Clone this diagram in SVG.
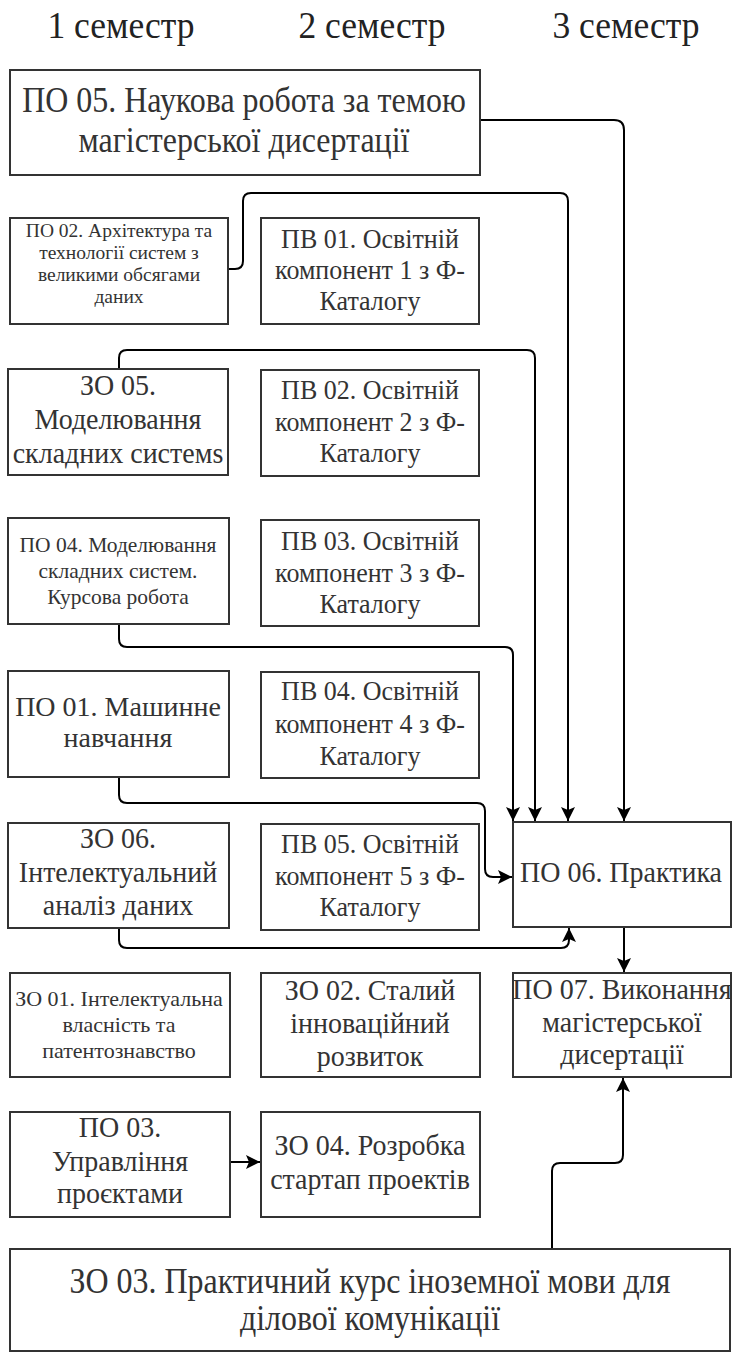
<svg xmlns="http://www.w3.org/2000/svg" width="732" height="1352" viewBox="0 0 732 1352" font-family="'Liberation Serif', 'Times New Roman', serif">
<defs>
<style>
.box{fill:#fff;stroke:#333;stroke-width:2}
text{font-family:'Liberation Serif','Times New Roman',serif;fill:#333;text-anchor:middle}
.hdr{font-size:37px;fill:#222}
.big{font-size:35.5px}
.m{font-size:29px}
.m2{font-size:28px}
.pv{font-size:27.5px}
.s{font-size:21.5px}
.xs{font-size:19.5px}
.xs2{font-size:22px}
.edge{fill:none;stroke:#000;stroke-width:2}
</style>
<marker id="arr" markerUnits="userSpaceOnUse" markerWidth="15" markerHeight="15" refX="14" refY="7" orient="auto">
<path d="M0,0 L14,7 L0,14 L3,7 z" fill="#000"/>
</marker>
</defs>
<rect width="732" height="1352" fill="#fff"/>

<g id="headers">
<text class="hdr" x="121" y="38" transform="translate(121 0) scale(0.96 1) translate(-121 0)">1 семестр</text>
<text class="hdr" x="372" y="38" transform="translate(372 0) scale(0.96 1) translate(-372 0)">2 семестр</text>
<text class="hdr" x="626" y="38" transform="translate(626 0) scale(0.96 1) translate(-626 0)">3 семестр</text>
</g>

<g id="connectors">
<path class="edge" d="M480,120 H614 Q624,120 624,130 V821" marker-end="url(#arr)"/>
<path class="edge" d="M228,269 H235 Q243,269 243,261 V201 Q243,193 251,193 H560 Q568,193 568,201 V821" marker-end="url(#arr)"/>
<path class="edge" d="M119,369 V358 Q119,350 127,350 H527 Q535,350 535,358 V821" marker-end="url(#arr)"/>
<path class="edge" d="M119,624 V639 Q119,647 127,647 H505 Q513,647 513,655 V821" marker-end="url(#arr)"/>
<path class="edge" d="M119,777 V795 Q119,803 127,803 H477 Q485,803 485,811 V869 Q485,877 493,877 H512" marker-end="url(#arr)"/>
<path class="edge" d="M119,928 V940 Q119,948 127,948 H561 Q569,948 569,940 V928" marker-end="url(#arr)"/>
<path class="edge" d="M624,927 V972" marker-end="url(#arr)"/>
<path class="edge" d="M230,1162 H260" marker-end="url(#arr)"/>
<path class="edge" d="M552,1249 V1171 Q552,1163 560,1163 H615 Q623,1163 623,1155 V1078" marker-end="url(#arr)"/>
</g>

<g id="po05">
<rect class="box" x="10" y="70" width="470" height="105"/>
<g transform="translate(244 0) scale(0.9 1) translate(-244 0)">
<text class="big" x="244" y="112">ПО 05. Наукова робота за темою</text>
<text class="big" x="244" y="152">магістерської дисертації</text>
</g>
</g>

<g id="po02">
<rect class="box" x="10" y="218" width="218" height="106"/>
<text class="xs" x="119" y="237">ПО 02. Архітектура та</text>
<text class="xs" x="119" y="259">технології систем з</text>
<text class="xs" x="119" y="281">великими обсягами</text>
<text class="xs" x="119" y="303">даних</text>
</g>

<g id="pv01">
<rect class="box" x="261" y="218" width="218" height="106"/>
<g transform="translate(370 0) scale(0.945 1) translate(-370 0)">
<text class="pv" x="370" y="248">ПВ 01. Освітній</text>
<text class="pv" x="370" y="279">компонент 1 з Ф-</text>
<text class="pv" x="370" y="310">Каталогу</text>
</g>
</g>

<g id="zo05">
<rect class="box" x="8" y="369" width="220" height="106"/>
<g transform="translate(118 0) scale(0.965 1) translate(-118 0)">
<text class="m" x="118" y="395">ЗО 05.</text>
<text class="m" x="118" y="429">Моделювання</text>
<text class="m" x="118" y="463">складних системs</text>
</g>
</g>

<g id="pv02">
<rect class="box" x="261" y="370" width="218" height="106"/>
<g transform="translate(370 0) scale(0.945 1) translate(-370 0)">
<text class="pv" x="370" y="399">ПВ 02. Освітній</text>
<text class="pv" x="370" y="431">компонент 2 з Ф-</text>
<text class="pv" x="370" y="462">Каталогу</text>
</g>
</g>

<g id="po04">
<rect class="box" x="8" y="518" width="221" height="106"/>
<text class="s" x="118" y="552">ПО 04. Моделювання</text>
<text class="s" x="118" y="578">складних систем.</text>
<text class="s" x="118" y="604">Курсова робота</text>
</g>

<g id="pv03">
<rect class="box" x="261" y="520" width="218" height="106"/>
<g transform="translate(370 0) scale(0.945 1) translate(-370 0)">
<text class="pv" x="370" y="550">ПВ 03. Освітній</text>
<text class="pv" x="370" y="582">компонент 3 з Ф-</text>
<text class="pv" x="370" y="613">Каталогу</text>
</g>
</g>

<g id="po01">
<rect class="box" x="8" y="671" width="221" height="106"/>
<text class="m2" x="118" y="716">ПО 01. Машинне</text>
<text class="m2" x="118" y="747">навчання</text>
</g>

<g id="pv04">
<rect class="box" x="261" y="672" width="218" height="106"/>
<g transform="translate(370 0) scale(0.945 1) translate(-370 0)">
<text class="pv" x="370" y="700">ПВ 04. Освітній</text>
<text class="pv" x="370" y="733">компонент 4 з Ф-</text>
<text class="pv" x="370" y="765">Каталогу</text>
</g>
</g>

<g id="zo06">
<rect class="box" x="8" y="823" width="221" height="105"/>
<g transform="translate(118 0) scale(0.965 1) translate(-118 0)">
<text class="m" x="118" y="848">ЗО 06.</text>
<text class="m" x="118" y="882">Інтелектуальний</text>
<text class="m" x="118" y="915">аналіз даних</text>
</g>
</g>

<g id="pv05">
<rect class="box" x="261" y="824" width="218" height="106"/>
<g transform="translate(370 0) scale(0.945 1) translate(-370 0)">
<text class="pv" x="370" y="853">ПВ 05. Освітній</text>
<text class="pv" x="370" y="885">компонент 5 з Ф-</text>
<text class="pv" x="370" y="916">Каталогу</text>
</g>
</g>

<g id="po06">
<rect class="box" x="513" y="822" width="218" height="105"/>
<g transform="translate(621 0) scale(0.965 1) translate(-621 0)">
<text class="m" x="621" y="882">ПО 06. Практика</text>
</g>
</g>

<g id="zo01">
<rect class="box" x="10" y="973" width="220" height="104"/>
<text class="xs2" x="119" y="1006">ЗО 01. Інтелектуальна</text>
<text class="xs2" x="119" y="1032">власність та</text>
<text class="xs2" x="119" y="1058">патентознавство</text>
</g>

<g id="zo02">
<rect class="box" x="261" y="973" width="219" height="104"/>
<g transform="translate(370 0) scale(0.965 1) translate(-370 0)">
<text class="m" x="370" y="1000">ЗО 02. Сталий</text>
<text class="m" x="370" y="1033">інноваційний</text>
<text class="m" x="370" y="1066">розвиток</text>
</g>
</g>

<g id="po07">
<rect class="box" x="513" y="973" width="218" height="104"/>
<g transform="translate(622 0) scale(0.965 1) translate(-622 0)">
<text class="m" x="622" y="999">ПО 07. Виконання</text>
<text class="m" x="622" y="1032">магістерської</text>
<text class="m" x="622" y="1064">дисертації</text>
</g>
</g>

<g id="po03">
<rect class="box" x="10" y="1112" width="220" height="105"/>
<g transform="translate(120 0) scale(0.965 1) translate(-120 0)">
<text class="m" x="120" y="1137">ПО 03.</text>
<text class="m" x="120" y="1171">Управління</text>
<text class="m" x="120" y="1203">проєктами</text>
</g>
</g>

<g id="zo04">
<rect class="box" x="261" y="1112" width="219" height="105"/>
<g transform="translate(370 0) scale(0.965 1) translate(-370 0)">
<text class="m" x="370" y="1155">ЗО 04. Розробка</text>
<text class="m" x="370" y="1189">стартап проектів</text>
</g>
</g>

<g id="zo03">
<rect class="box" x="10" y="1249" width="720" height="102"/>
<g transform="translate(370 0) scale(0.9 1) translate(-370 0)">
<text class="big" x="370" y="1293">ЗО 03. Практичний курс іноземної мови для</text>
<text class="big" x="370" y="1330">ділової комунікації</text>
</g>
</g>
</svg>
